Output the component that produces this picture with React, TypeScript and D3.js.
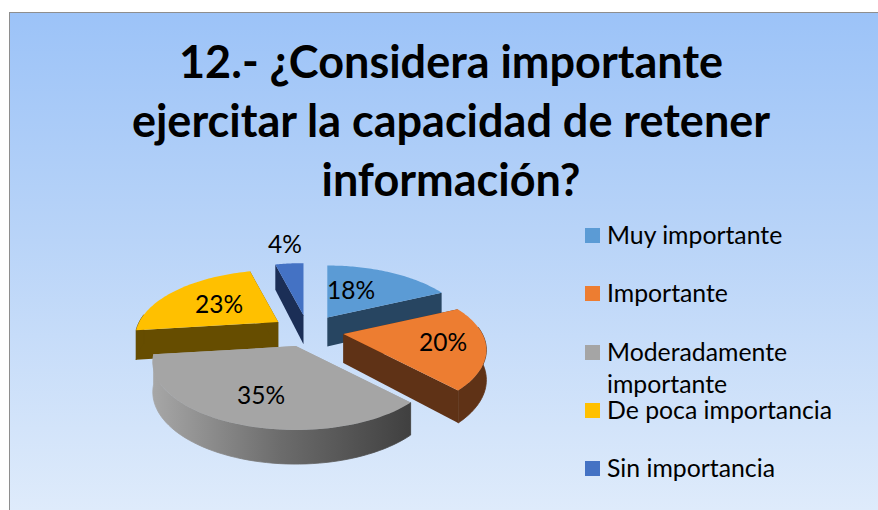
import React from "react";
import * as d3 from "d3";

const categories = ["Muy importante", "Importante", "Moderadamente importante", "De poca importancia", "Sin importancia"];
const values = [18, 20, 35, 23, 4];
const topColors = ["#5b9bd5", "#ed7d31", "#a5a5a5", "#ffc000", "#4472c4"];
const sideColors = ["#274561", "#5f3216", "#a5a5a5", "#664d00", "#1b2e56"];
const legendLines = [["Muy importante"], ["Importante"], ["Moderadamente", "importante"], ["De poca importancia"], ["Sin importancia"]];
const titleLines = ["12.- ¿Considera importante", "ejercitar la capacidad de retener", "información?"];

const W = 878, H = 510;
const FONT = "Lato, Carlito, 'Open Sans', sans-serif";
const cx = 308, cy = 331;
const a = 139, b = 64.2, k = 0.235, hz = 29, kz = 0.15;
const exX = 36, exY = 16;

const pie = d3.pie<number>().sort(null).startAngle(0).endAngle(2 * Math.PI);
const arcs = pie(values);
const legendY = d3.scaleOrdinal<number, number>().domain([0, 1, 2, 3, 4]).range([236, 294, 353, 411, 469]);

type P = [number, number];
const local = (t: number, r: number): { X: number; Y: number } => ({ X: r * Math.sin(t), Y: -r * Math.cos(t) });
const line = d3.line<P>();

function project(t: number, r: number, ox: number, oy: number, bottom: boolean): P {
  const { X, Y } = local(t, r);
  const s = 1 / (1 - k * Y);
  const sz = 1 / (1 - kz * Y);
  return [ox + a * X * s, oy + b * Y * s + (bottom ? hz * sz : 0)];
}

export default function App() {
  const order = [4, 0, 3, 1, 2];
  return (
    <svg width={W} height={H} style={{ position: "absolute", left: 0, top: 0, display: "block" }}>
      <defs>
        <linearGradient id="bg" x1="0" y1="0" x2="0" y2="1">
          <stop offset="0" stopColor="#9cc3f8" />
          <stop offset="0.45" stopColor="#b9d4f8" />
          <stop offset="1" stopColor="#e0ecfb" />
        </linearGradient>
        <linearGradient id="greyWall" gradientUnits="userSpaceOnUse" x1="150" y1="0" x2="410" y2="0">
          <stop offset="0" stopColor="#a8a8a8" />
          <stop offset="0.5" stopColor="#6c6c6c" />
          <stop offset="1" stopColor="#404040" />
        </linearGradient>
      </defs>
      <rect x={9.5} y={12.5} width={W} height={H} fill="url(#bg)" stroke="#8e8e8e" strokeWidth={1} />
      <g fontFamily={FONT} fontWeight={700} fontSize={45} textAnchor="middle" fill="#000">
        {titleLines.map((t, i) => (
          <text key={t} x={451} y={78 + i * 59}>{t}</text>
        ))}
      </g>
      {order.map((i) => {
        const d = arcs[i];
        const mid = (d.startAngle + d.endAngle) / 2;
        const ox = cx + exX * Math.sin(mid);
        const oy = cy - exY * Math.cos(mid);
        const ts = d3.range(0, 61).map((j) => d.startAngle + ((d.endAngle - d.startAngle) * j) / 60);
        const top: P[] = [[ox, oy], ...ts.map((t) => project(t, 1, ox, oy, false))];
        const visible = ts.filter((t) => Math.cos(t) < 0.12);
        const wall: P[] = visible.length
          ? [...visible.map((t) => project(t, 1, ox, oy, false)), ...[...visible].reverse().map((t) => project(t, 1, ox, oy, true))]
          : [];
        const cut = (t: number): P[] => [[ox, oy], project(t, 1, ox, oy, false), project(t, 1, ox, oy, true), [ox, oy + hz]];
        const wallFill = i === 2 ? "url(#greyWall)" : sideColors[i];
        return (
          <g key={categories[i]}>
            <path d={line(cut(d.startAngle))! + "Z"} fill={sideColors[i]} />
            <path d={line(cut(d.endAngle))! + "Z"} fill={sideColors[i]} />
            {wall.length > 0 && <path d={line(wall)! + "Z"} fill={wallFill} stroke={wallFill} strokeWidth={0.8} />}
            <path d={line(top)! + "Z"} fill={topColors[i]} />
          </g>
        );
      })}
      <g fontFamily={FONT} fontSize={24.5} fill="#000" textAnchor="middle">
        <text x={351} y={299}>18%</text>
        <text x={443} y={351}>20%</text>
        <text x={261} y={404}>35%</text>
        <text x={219} y={313}>23%</text>
        <text x={285} y={253}>4%</text>
      </g>
      <g fontFamily={FONT} fontSize={24.8} fill="#000">
        {legendLines.map((ls, i) => (
          <g key={ls[0]}>
            <rect x={585} y={legendY(i) - 8} width={15} height={15} fill={topColors[i]} />
            {ls.map((l, j) => (
              <text key={l} x={607} y={legendY(i) + 8 + j * 32}>{l}</text>
            ))}
          </g>
        ))}
      </g>
    </svg>
  );
}
